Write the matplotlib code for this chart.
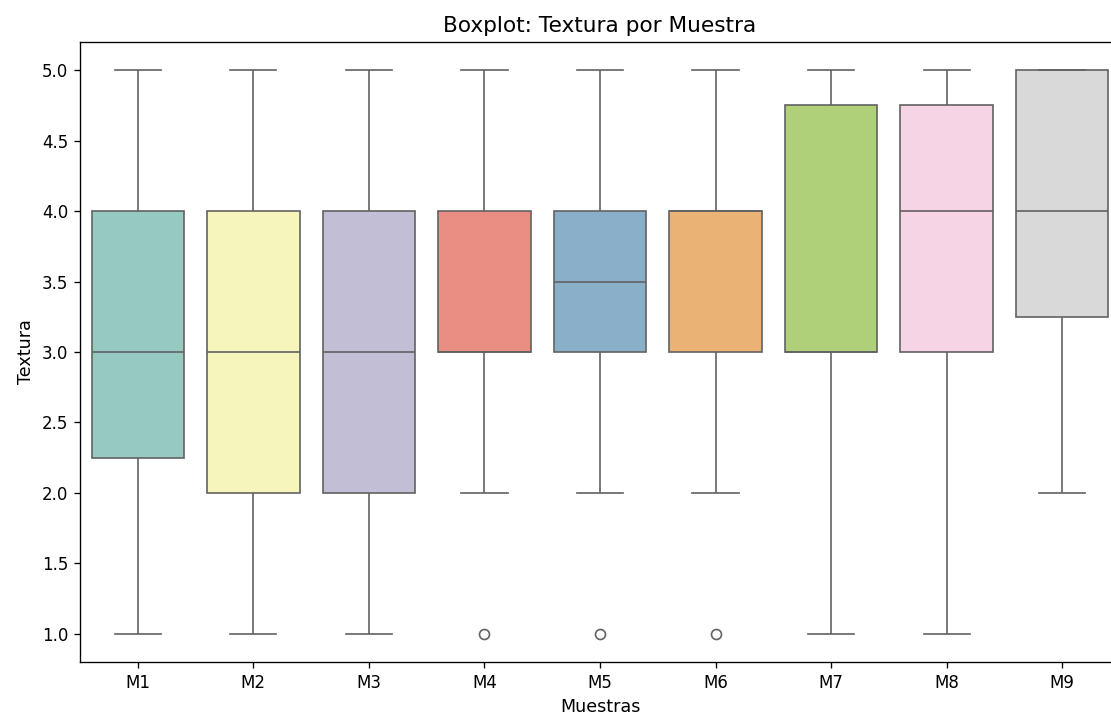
import matplotlib
matplotlib.use("Agg")
from matplotlib import pyplot as plt
import seaborn as sns
import pandas as pd

# puntuaciones de textura por muestra (10 panelistas)
muestras = ["M1", "M2", "M3", "M4", "M5", "M6", "M7", "M8", "M9"]
m1 = [1, 2, 2, 3, 3, 3, 4, 4, 4, 5]
m2 = [1, 2, 2, 2, 3, 3, 4, 4, 4, 5]
m3 = [1, 1, 2, 2, 3, 3, 4, 4, 5, 5]
m4 = [1, 2, 3, 3, 3, 3, 4, 4, 4, 5]
m5 = [1, 2, 3, 3, 3, 4, 4, 4, 4, 5]
m6 = [1, 2, 3, 3, 4, 4, 4, 4, 4, 5]
m7 = [1, 3, 3, 3, 3, 3, 4, 5, 5, 5]
m8 = [1, 2, 3, 3, 4, 4, 4, 5, 5, 5]
m9 = [2, 3, 3, 4, 4, 4, 5, 5, 5, 5]

valores = [m1, m2, m3, m4, m5, m6, m7, m8, m9]
filas = []
for nombre, vals in zip(muestras, valores):
    for v in vals:
        filas.append({"Muestra": nombre, "Textura": v})
df = pd.DataFrame(filas)

# figura con dpi 120 (texto algo mas grande)
fig = plt.figure(figsize=(1111 / 120, 720 / 120), dpi=120)
ax = fig.add_axes([80 / 1111, 1 - 662 / 720, 1040 / 1111, 620 / 720])

sns.boxplot(data=df, x="Muestra", y="Textura", hue="Muestra", palette="Set3",
            legend=False, ax=ax, order=muestras)

ax.set_title("Boxplot: Textura por Muestra", fontsize=13)
ax.set_xlabel("Muestras", fontsize=10.5)
ax.set_ylabel("Textura", fontsize=10.5)

fig.savefig("out.png", dpi=120)
